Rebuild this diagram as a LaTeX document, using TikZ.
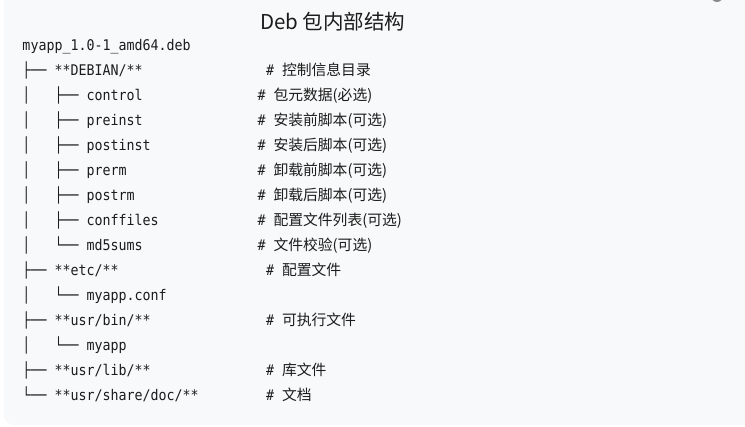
\documentclass[tikz,border=0pt]{standalone}
\usepackage{fontspec}
\newfontfamily\monof[FakeStretch=0.905]{DejaVu Sans Mono}
\newfontfamily\cjkf{Noto Sans CJK SC}
\definecolor{bgbox}{HTML}{F8F9FA}
\definecolor{ink}{HTML}{1C1C1C}
\definecolor{knob}{HTML}{8A8A8A}
\newcommand{\cmtx}[1]{\#~{\cjkf\fontsize{14.8}{17}\selectfont #1}}
\begin{document}
\begin{tikzpicture}[x=1pt,y=-1pt,
  mono/.style={anchor=base west, inner sep=0pt, outer sep=0pt, text=ink,
    font=\monof\fontsize{14.7}{17}\selectfont},
  titlestyle/.style={anchor=base, inner sep=0pt, text=ink,
    font=\cjkf\fontsize{20.5}{24}\selectfont}]
\useasboundingbox (0,0) rectangle (745,427);
\begin{scope}
  \clip (0,0) rectangle (745,427);
  \fill[bgbox, rounded corners=10pt] (4,-20) rectangle (770,425);
  \fill[knob] (717,-4) circle (6);
\end{scope}
\node[titlestyle] (title) at (332.7,30) {Deb 包内部结构};
% tree
\node[mono] (r0)  at (22.5,51)  {myapp\_1.0-1\_amd64.deb};
\node[mono] (r1)  at (22.5,76)  {├──~**DEBIAN/**};
\node[mono] (r2)  at (22.5,101) {│~~~├──~control};
\node[mono] (r3)  at (22.5,126) {│~~~├──~preinst};
\node[mono] (r4)  at (22.5,151) {│~~~├──~postinst};
\node[mono] (r5)  at (22.5,176) {│~~~├──~prerm};
\node[mono] (r6)  at (22.5,201) {│~~~├──~postrm};
\node[mono] (r7)  at (22.5,226) {│~~~├──~conffiles};
\node[mono] (r8)  at (22.5,251) {│~~~└──~md5sums};
\node[mono] (r9)  at (22.5,276) {├──~**etc/**};
\node[mono] (r10) at (22.5,301) {│~~~└──~myapp.conf};
\node[mono] (r11) at (22.5,326) {├──~**usr/bin/**};
\node[mono] (r12) at (22.5,351) {│~~~└──~myapp};
\node[mono] (r13) at (22.5,376) {├──~**usr/lib/**};
\node[mono] (r14) at (22.5,401) {└──~**usr/share/doc/**};
% comments
\node[mono] (c1)  at (266,76)  {\cmtx{控制信息目录}};
\node[mono] (c2)  at (257.5,101) {\cmtx{包元数据(必选)}};
\node[mono] (c3)  at (257.5,126) {\cmtx{安装前脚本(可选)}};
\node[mono] (c4)  at (257.5,151) {\cmtx{安装后脚本(可选)}};
\node[mono] (c5)  at (257.5,176) {\cmtx{卸载前脚本(可选)}};
\node[mono] (c6)  at (257.5,201) {\cmtx{卸载后脚本(可选)}};
\node[mono] (c7)  at (257.5,226) {\cmtx{配置文件列表(可选)}};
\node[mono] (c8)  at (257.5,251) {\cmtx{文件校验(可选)}};
\node[mono] (c9)  at (266,276) {\cmtx{配置文件}};
\node[mono] (c11) at (266,326) {\cmtx{可执行文件}};
\node[mono] (c13) at (266,376) {\cmtx{库文件}};
\node[mono] (c14) at (266,401) {\cmtx{文档}};
\end{tikzpicture}
\end{document}
